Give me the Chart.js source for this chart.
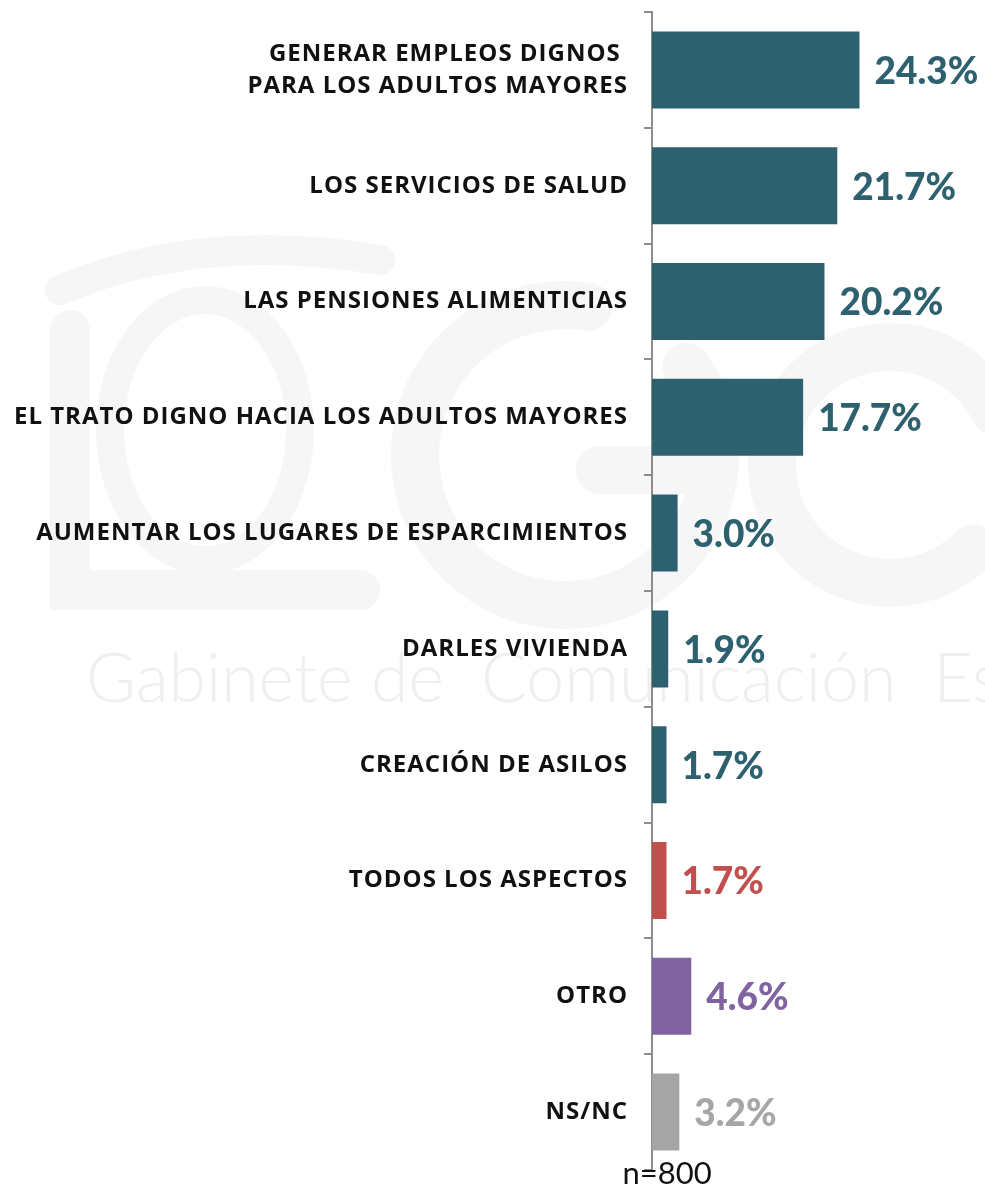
<!DOCTYPE html>
<html>
<head>
<meta charset="utf-8">
<script src="https://cdn.jsdelivr.net/npm/chart.js@4.4.0/dist/chart.umd.min.js"></script>
<style>
  html, body { margin: 0; padding: 0; background: #fff; }
  #wrap { width: 985px; height: 1186px; position: relative; }
</style>
</head>
<body>
<div id="wrap"><canvas id="chart"></canvas></div>
<script>
var categories = [
  ['GENERAR EMPLEOS DIGNOS ', 'PARA LOS ADULTOS MAYORES'],
  'LOS SERVICIOS DE SALUD',
  'LAS PENSIONES ALIMENTICIAS',
  'EL TRATO DIGNO HACIA LOS ADULTOS MAYORES',
  'AUMENTAR LOS LUGARES DE ESPARCIMIENTOS',
  'DARLES VIVIENDA',
  'CREACIÓN DE ASILOS',
  'TODOS LOS ASPECTOS',
  'OTRO',
  'NS/NC'
];
var values = [24.3, 21.7, 20.2, 17.7, 3.0, 1.9, 1.7, 1.7, 4.6, 3.2];
var barColors = ['#2E6170', '#2E6170', '#2E6170', '#2E6170', '#2E6170', '#2E6170', '#2E6170', '#C0504D', '#8064A2', '#A6A6A6'];
var sampleNote = 'n=800';
var watermarkText = 'Gabinete de  Comunicación  Estratégica';

// faint logo + text watermark behind the chart
var watermark = {
  id: 'watermark',
  beforeDraw: function(chart) {
    var ctx = chart.ctx;
    ctx.save();
    ctx.strokeStyle = '#f6f6f6';
    ctx.lineCap = 'round';
    // left emblem
    ctx.lineWidth = 40;
    ctx.beginPath();
    ctx.moveTo(70, 330);
    ctx.lineTo(70, 590);
    ctx.lineTo(360, 590);
    ctx.stroke();
    ctx.lineWidth = 28;
    ctx.beginPath();
    ctx.ellipse(205, 430, 95, 130, 0, 0, Math.PI * 2);
    ctx.stroke();
    ctx.lineWidth = 30;
    ctx.beginPath();
    ctx.moveTo(60, 290);
    ctx.quadraticCurveTo(200, 230, 380, 260);
    ctx.stroke();
    // G
    ctx.lineWidth = 48;
    ctx.beginPath();
    ctx.arc(565, 455, 150, -0.2 * Math.PI, 1.55 * Math.PI, false);
    ctx.stroke();
    ctx.beginPath();
    ctx.moveTo(600, 470);
    ctx.lineTo(700, 470);
    ctx.stroke();
    // C
    ctx.beginPath();
    ctx.arc(890, 465, 118, 0.25 * Math.PI, 1.85 * Math.PI, false);
    ctx.stroke();
    // text
    ctx.fillStyle = '#efefef';
    ctx.font = '300 68px Lato';
    ctx.textBaseline = 'middle';
    ctx.textAlign = 'left';
    ctx.fillText(watermarkText, 86, 680);
    ctx.restore();
    // wider spacing for the category labels
    ctx.letterSpacing = '1px';
  }
};

// value labels at the end of each bar + sample size note
var valueLabels = {
  id: 'valueLabels',
  afterDatasetsDraw: function(chart) {
    var ctx = chart.ctx;
    var meta = chart.getDatasetMeta(0);
    ctx.save();
    ctx.letterSpacing = '0px';
    ctx.font = '900 37px Lato';
    ctx.textBaseline = 'middle';
    ctx.textAlign = 'left';
    meta.data.forEach(function(bar, i) {
      ctx.fillStyle = barColors[i];
      ctx.fillText(values[i].toFixed(1) + '%', bar.x + 15, bar.y + 2);
    });
    ctx.fillStyle = '#111';
    ctx.font = '31px Lato';
    ctx.textAlign = 'center';
    ctx.fillText(sampleNote, 667, 1174);
    ctx.restore();
  }
};

var data = {
  labels: categories,
  datasets: [{
    data: values,
    backgroundColor: barColors,
    borderWidth: 0,
    barPercentage: 0.95,
    categoryPercentage: 0.7
  }]
};

var config = {
  type: 'bar',
  data: data,
  options: {
    indexAxis: 'y',
    responsive: true,
    maintainAspectRatio: false,
    animation: false,
    layout: { padding: { top: 12, bottom: 16, left: 0, right: 0 } },
    plugins: {
      legend: { display: false },
      tooltip: { enabled: false }
    },
    scales: {
      x: {
        display: false,
        min: 0,
        max: 39
      },
      y: {
        afterFit: function(scale) {
          scale.width = 652;
          scale.paddingTop = 0;
          scale.paddingBottom = 0;
        },
        border: { display: true, color: '#8c8c8c', width: 2 },
        grid: {
          drawOnChartArea: false,
          drawTicks: true,
          tickLength: 8,
          color: '#8c8c8c',
          lineWidth: 2,
          offset: true
        },
        ticks: {
          color: '#111',
          font: { family: 'Open Sans', weight: 'bold', size: 24, lineHeight: 1.35 },
          padding: 16
        }
      }
    }
  },
  plugins: [watermark, valueLabels]
};

var chart = new Chart(document.getElementById('chart'), config);
</script>
</body>
</html>
